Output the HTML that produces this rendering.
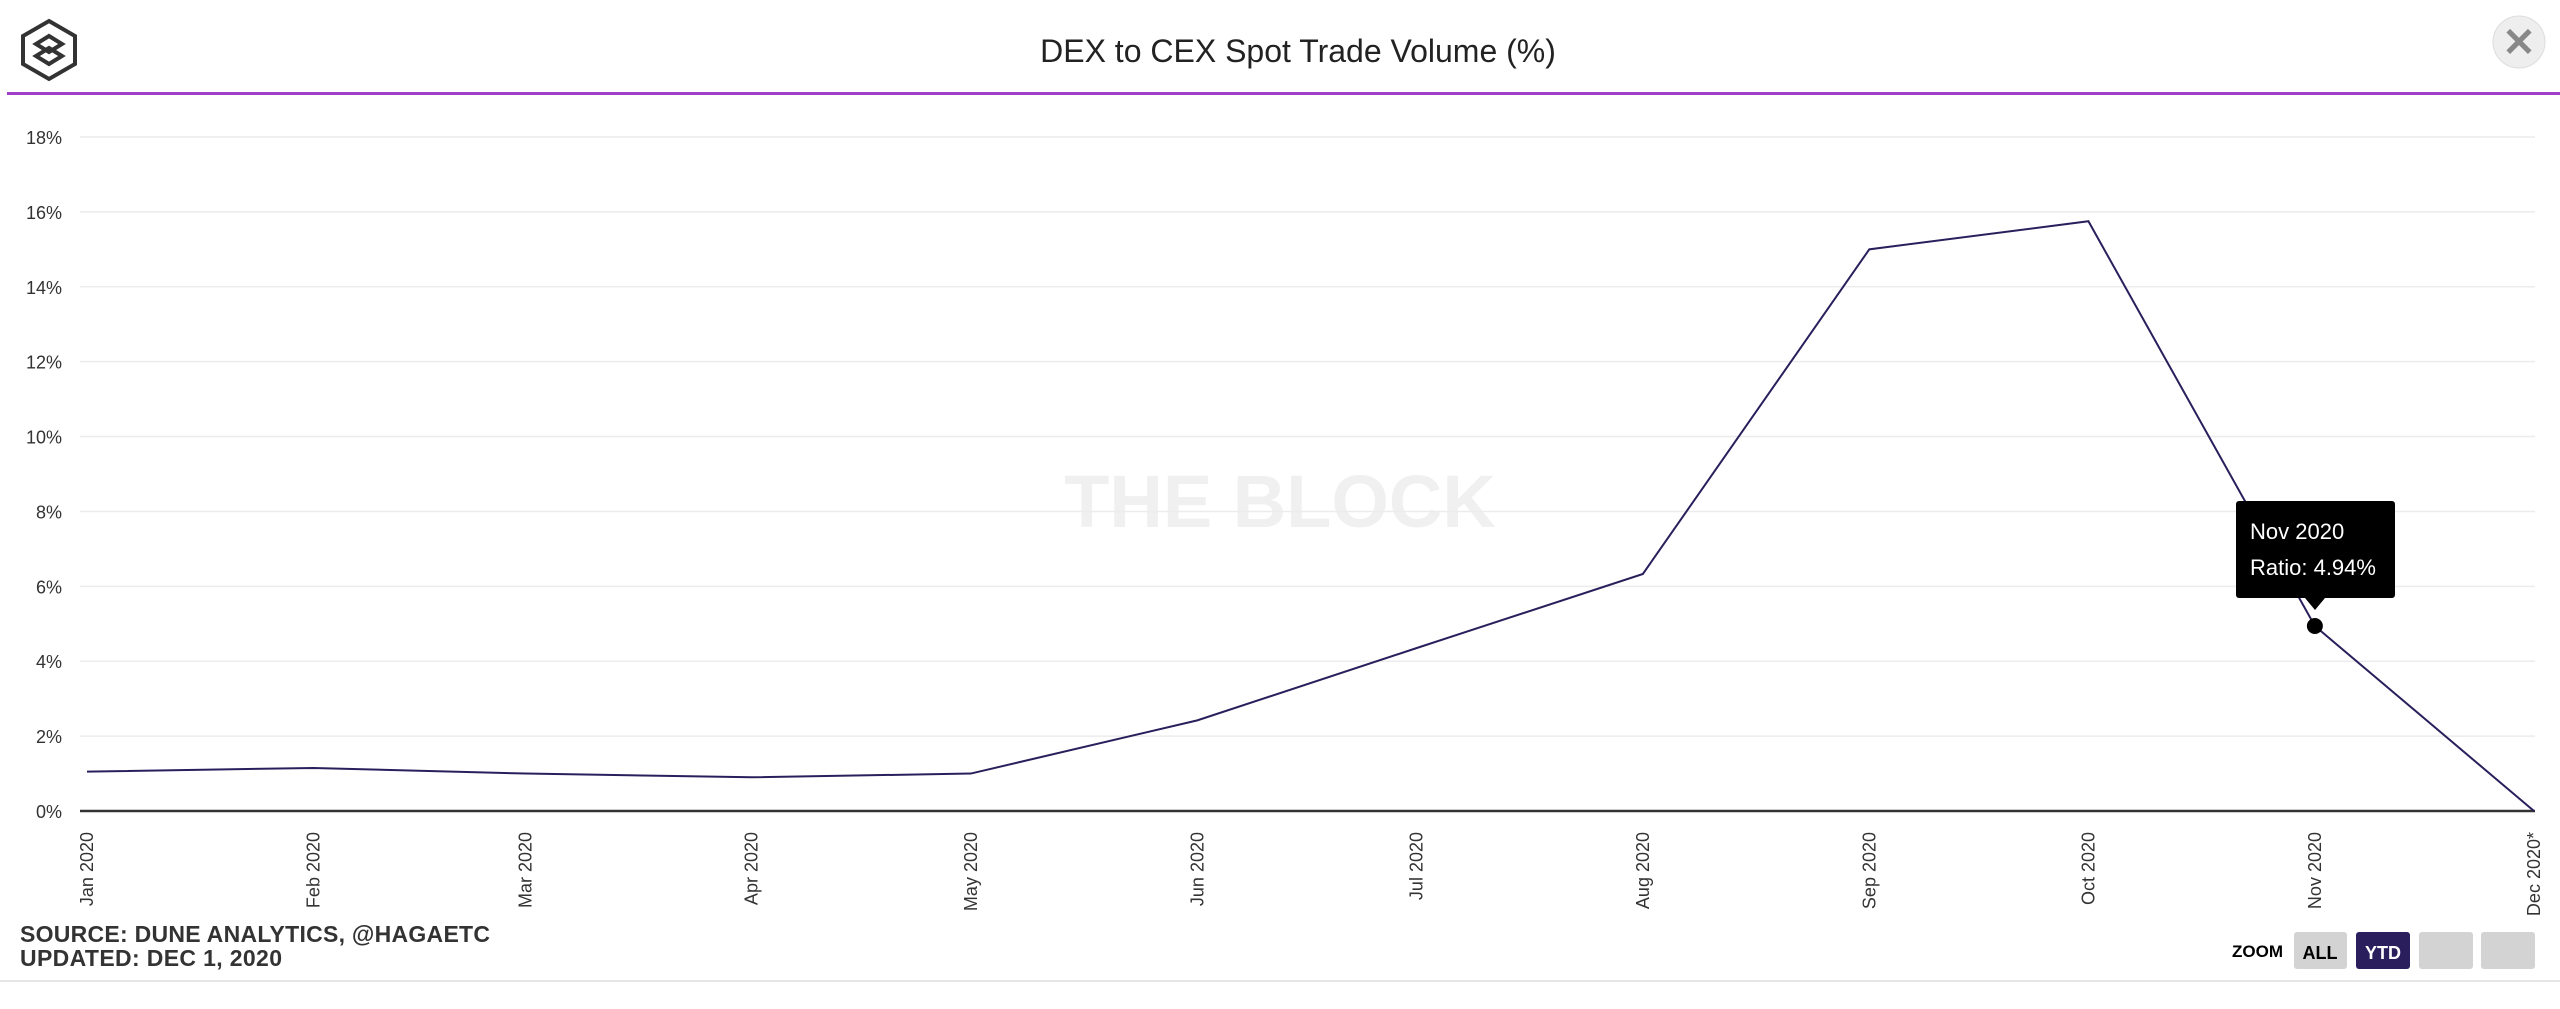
<!DOCTYPE html>
<html><head><meta charset="utf-8"><style>
body{margin:0;background:#fff;width:2560px;height:1004px;overflow:hidden;font-family:"Liberation Sans",sans-serif}
</style></head><body>
<svg width="2560" height="1004" xmlns="http://www.w3.org/2000/svg" id="chart">
<g fill="none" stroke="#333" stroke-width="4">
<polygon points="49,21 75,36 75,64 49,79 23,64 23,36"/>
<polygon points="49,36 62,44 49,52 36,44"/><polygon points="49,48 62,56 49,64 36,56"/>
</g>
<text x="1298" y="62" text-anchor="middle" font-size="32" fill="#222">DEX to CEX Spot Trade Volume (%)</text>
<g><circle cx="2519" cy="42" r="26" fill="#eee" stroke="#ddd"/><text x="2519" y="56" text-anchor="middle" font-size="40" font-weight="bold" fill="#888">✕</text></g>
<rect x="7" y="92" width="2553" height="3" fill="#a040c8"/>
<text x="1280" y="527" text-anchor="middle" font-size="74" font-weight="bold" fill="#f0f0f0">THE BLOCK</text>
<g id="grid"></g><g id="xl"></g><g id="series"></g>
<g>
<rect x="2236" y="501" width="159" height="97" rx="3" fill="#000"/>
<polygon points="2305,598 2325,598 2315,610" fill="#000"/>
<text x="2250" y="539" font-size="22" fill="#fff">Nov 2020</text>
<text x="2250" y="575" font-size="22" fill="#fff">Ratio: 4.94%</text>
</g>
<text x="20" y="942" font-size="23" font-weight="bold" fill="#333" textLength="470">SOURCE: DUNE ANALYTICS, @HAGAETC</text>
<text x="20" y="966" font-size="23" font-weight="bold" fill="#333" textLength="262">UPDATED: DEC 1, 2020</text>
<text x="2232" y="957" font-size="17" font-weight="bold" fill="#000">ZOOM</text>
<g><rect x="2294" y="932" width="53" height="37" rx="3" fill="#d3d3d3"/><text x="2320" y="959" text-anchor="middle" font-size="18" font-weight="bold" fill="#000">ALL</text></g>
<g><rect x="2356" y="932" width="54" height="37" rx="3" fill="#2a1f5c"/><text x="2383" y="959" text-anchor="middle" font-size="18" font-weight="bold" fill="#fff">YTD</text></g>
<rect x="2419" y="932" width="54" height="37" rx="3" fill="#d3d3d3"/>
<rect x="2481" y="932" width="54" height="37" rx="3" fill="#d3d3d3"/>
<rect x="0" y="980" width="2560" height="2" fill="#e6e6e6"/>
</svg>
<script>
const categories=["Jan 2020","Feb 2020","Mar 2020","Apr 2020","May 2020","Jun 2020","Jul 2020","Aug 2020","Sep 2020","Oct 2020","Nov 2020","Dec 2020*"];
const dayOffsets=[0,31,60,91,121,152,182,213,244,274,305,335];
const ratioValues=[1.05,1.15,1.0,0.9,1.0,2.42,4.35,6.33,15.0,15.75,4.94,0];
const yTicks=[0,2,4,6,8,10,12,14,16,18];
const NS="http://www.w3.org/2000/svg";
const X0=87,X1=2534,Y0=811,Y18=137;
const xs=d=>X0+(X1-X0)*d/335;
const ys=v=>Y0-(Y0-Y18)*v/18;
function mk(t,a,p){const e=document.createElementNS(NS,t);for(const k in a)e.setAttribute(k,a[k]);p.appendChild(e);return e;}
const grid=document.getElementById('grid');
yTicks.forEach(v=>{
 const l=mk('line',{x1:80,x2:2535,y1:ys(v),y2:ys(v),stroke:v===0?'#333':'#ececec','stroke-width':v===0?2.5:1.5},grid);
 
 
 const t=mk('text',{x:62,y:ys(v)+7,'text-anchor':'end','font-size':18,fill:'#333'},grid);
 t.textContent=v+'%';
 
 
});
const xl=document.getElementById('xl');
categories.forEach((c,i)=>{
 const x=xs(dayOffsets[i]);
 const t=mk('text',{x:0,y:0,transform:`translate(${x+6},832) rotate(-90)`,'text-anchor':'end','font-size':18,fill:'#333'},xl);
 t.textContent=c;
 
 
});
const s=document.getElementById('series');
const pts=ratioValues.map((v,i)=>xs(dayOffsets[i])+','+ys(v)).join(' ');
const pl=mk('polyline',{points:pts,fill:'none',stroke:'#2a1f5c','stroke-width':2},s);


const c=mk('circle',{cx:xs(dayOffsets[10]),cy:ys(ratioValues[10]),r:8,fill:'#000'},s);


</script>
</body></html>
